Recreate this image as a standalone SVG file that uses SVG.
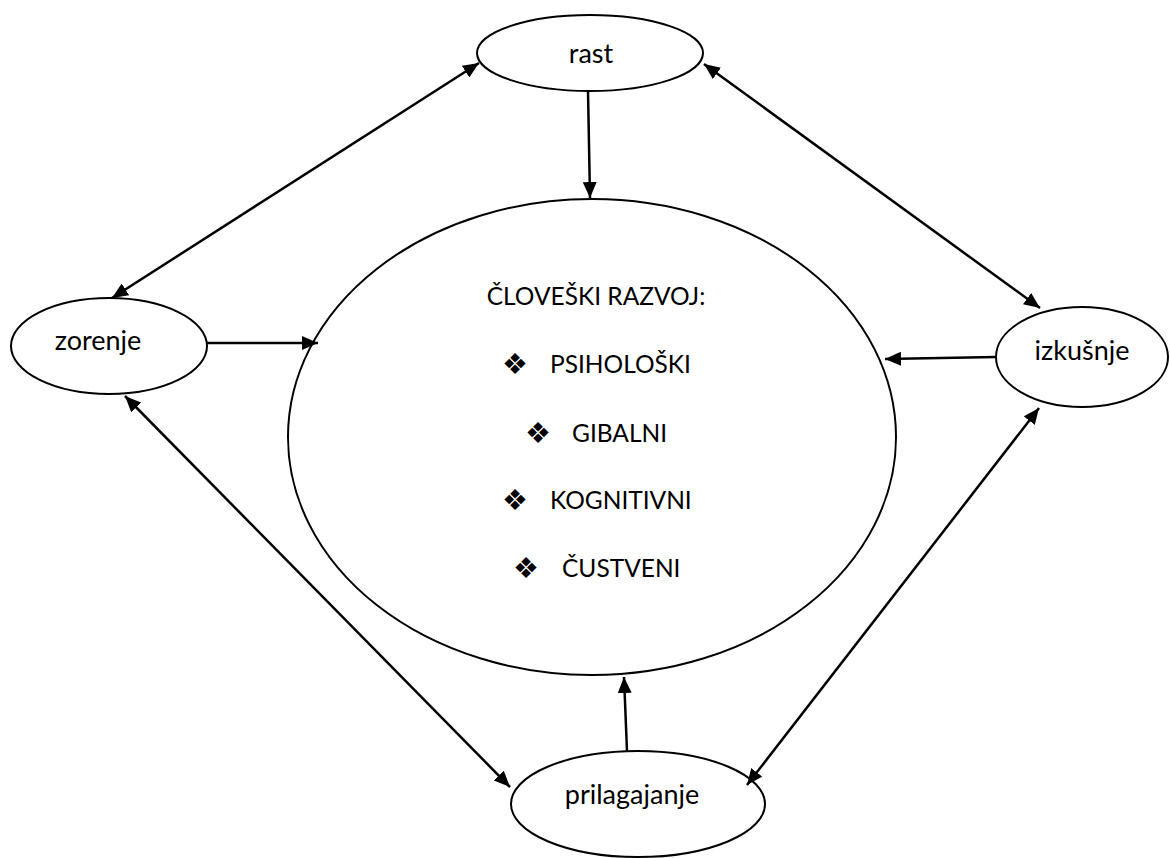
<svg xmlns="http://www.w3.org/2000/svg" width="1170" height="858" viewBox="0 0 1170 858">
<style>
.node{fill:#fff;stroke:#000;stroke-width:2}
.lbl{font-family:Lato,"Open Sans","Liberation Sans",sans-serif;font-size:24.5px;fill:#000}
.nm{font-family:Lato,"Open Sans","Liberation Sans",sans-serif;font-size:27px;fill:#000;text-anchor:middle}
.mid{text-anchor:middle}
.bul{font-family:"DejaVu Sans",sans-serif;font-size:29px;fill:#000}
.con line{stroke:#000;stroke-width:2.5;fill:none}
</style>
<defs>
<marker id="ah" viewBox="0 0 16 14" refX="16" refY="7" markerWidth="16" markerHeight="14" markerUnits="userSpaceOnUse" orient="auto-start-reverse">
<path d="M0,0 L16,7 L0,14 Z" fill="#000"/>
</marker>
</defs>
<rect width="1170" height="858" fill="#fff"/>
<g id="center">
<ellipse class="node" cx="592" cy="437" rx="304" ry="238"/>
<text class="lbl mid" x="596" y="305">ČLOVEŠKI RAZVOJ:</text>
<text class="bul" x="502" y="374">❖</text><text class="lbl" x="550" y="373">PSIHOLOŠKI</text>
<text class="bul" x="525" y="443">❖</text><text class="lbl" x="572" y="442">GIBALNI</text>
<text class="bul" x="502" y="510">❖</text><text class="lbl" x="550" y="509">KOGNITIVNI</text>
<text class="bul" x="513" y="578">❖</text><text class="lbl" x="562" y="577">ČUSTVENI</text>
</g>
<g id="rast">
<ellipse class="node" cx="590" cy="53" rx="113" ry="38"/>
<text class="nm" x="591" y="63">rast</text>
</g>
<g id="zorenje">
<ellipse class="node" cx="109" cy="346" rx="98" ry="48"/>
<text class="nm" x="98" y="350">zorenje</text>
</g>
<g id="izkusnje">
<ellipse class="node" cx="1082" cy="357" rx="86" ry="50"/>
<text class="nm" x="1082" y="360">izkušnje</text>
</g>
<g id="prilagajanje">
<ellipse class="node" cx="638" cy="804" rx="127" ry="53"/>
<text class="nm" x="632" y="804">prilagajanje</text>
</g>
<g id="connectors" class="con">
<line x1="588" y1="91" x2="590" y2="198" marker-end="url(#ah)"/>
<line x1="112" y1="298" x2="479" y2="63" marker-start="url(#ah)" marker-end="url(#ah)"/>
<line x1="704" y1="64" x2="1040" y2="308" marker-start="url(#ah)" marker-end="url(#ah)"/>
<line x1="207" y1="343" x2="318" y2="343" marker-end="url(#ah)"/>
<line x1="996" y1="357" x2="885" y2="359" marker-end="url(#ah)"/>
<line x1="125" y1="396" x2="510" y2="787" marker-start="url(#ah)" marker-end="url(#ah)"/>
<line x1="1039" y1="408" x2="747" y2="785" marker-start="url(#ah)" marker-end="url(#ah)"/>
<line x1="627" y1="751" x2="624" y2="677" marker-end="url(#ah)"/>
</g>
</svg>
